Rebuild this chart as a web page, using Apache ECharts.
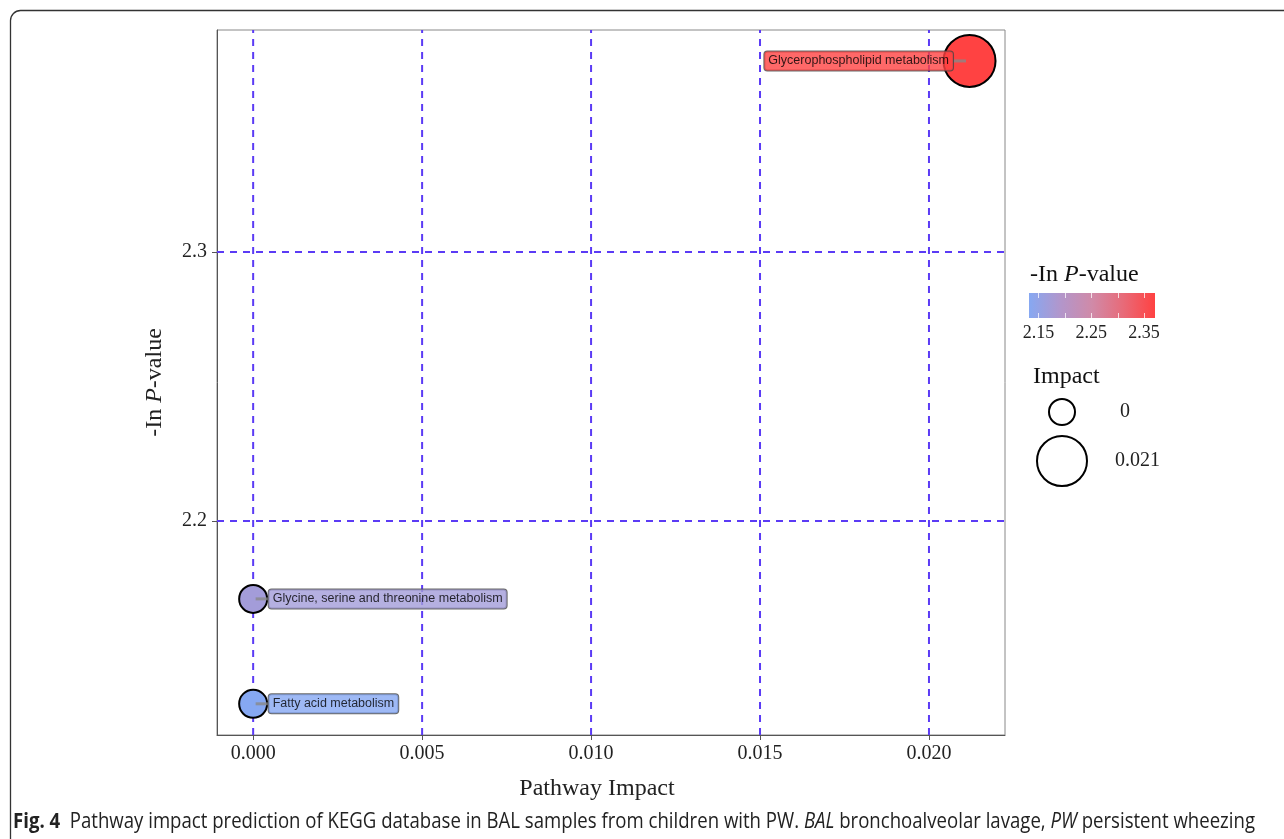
<!DOCTYPE html>
<html>
<head>
<meta charset="utf-8">
<script src="https://cdn.jsdelivr.net/npm/echarts@6/dist/echarts.min.js"></script>
<style>
html,body{margin:0;padding:0;background:#fff;}
#chart{width:1284px;height:839px;}
</style>
</head>
<body>
<div id="chart"></div>
<script>
// ---- data ----
const pathways = ['Glycerophospholipid metabolism', 'Glycine, serine and threonine metabolism', 'Fatty acid metabolism'];
const impact = [0.0212, 0, 0];
const negLnP = [2.371, 2.171, 2.132];
const xTicks = [0, 0.005, 0.010, 0.015, 0.020];
const yTicks = [2.2, 2.3];
const colorbarTicks = [2.15, 2.20, 2.25, 2.30, 2.35];
const colorbarLabels = [2.15, 2.25, 2.35];
const sizeLegendValues = [0, 0.021];

// ---- styling ----
const colorStops = ['#86A8F2', '#B296CB', '#D08AA8', '#E86A78', '#FF4242'];
const pMin = 2.132, pMax = 2.371;
const impMin = 0, impMax = 0.021;
const sizeRange = [28, 52];
const serif = 'Liberation Serif, Times New Roman, serif';
const capFont = '"Open Sans", "Noto Sans", sans-serif';
const gridCol = '#5B3BF5';

function hexToRgb(h){h=h.replace('#','');return [0,2,4].map(i=>parseInt(h.substr(i,2),16));}
function colorAt(v){
  let t=(v-pMin)/(pMax-pMin); t=Math.max(0,Math.min(1,t));
  const n=colorStops.length-1; const i=Math.min(n-1,Math.floor(t*n)); const f=t*n-i;
  const a=hexToRgb(colorStops[i]), b=hexToRgb(colorStops[i+1]);
  return 'rgb('+a.map((x,k)=>Math.round(x+(b[k]-x)*f)).join(',')+')';
}
function sizeAt(v){return sizeRange[0]+(v-impMin)/(impMax-impMin)*(sizeRange[1]-sizeRange[0]);}

const chart = echarts.init(document.getElementById('chart'), null, {renderer:'canvas'});

const bubbleData = pathways.map((p,i)=>({name:p, value:[impact[i], negLnP[i]]}));
const segData = pathways.map((p,i)=>{
  const left = i===0;
  return {
    name:p, value:[impact[i], negLnP[i]],
    symbolOffset:[left?-10:9, 0],
    label:{
      show:true, position:left?'left':'right', distance:0,
      formatter:p, backgroundColor:colorAt(negLnP[i])
    }
  };
});

const grid = {left:217, right:279, top:30, bottom:104};
const xMin=-0.00107, xMax=0.02225, yMin=2.1204, yMax=2.3825;

// dashed gridlines built from the tick arrays
const gridSeries = [];
xTicks.forEach(v=>gridSeries.push({type:'line', silent:true, z:1, symbol:'none', animation:false,
  data:[[v,yMin],[v,yMax]], lineStyle:{color:gridCol, type:[7,6], width:2}}));
yTicks.forEach(v=>gridSeries.push({type:'line', silent:true, z:1, symbol:'none', animation:false,
  data:[[xMin,v],[xMax,v]], lineStyle:{color:gridCol, type:[7,6], width:2}}));

// colorbar geometry
const cb = {x:1029, y:293, w:126, h:25};
const cbX = v => cb.x + (v-pMin)/(pMax-pMin)*cb.w;
const graphics = [];
graphics.push({type:'rect', shape:{x:10.5, y:10.5, width:1320, height:900, r:10}, style:{fill:null, stroke:'#333', lineWidth:1.3}, z:0, silent:true});
graphics.push({type:'rect', shape:{x:cb.x, y:cb.y, width:cb.w, height:cb.h}, style:{fill:new echarts.graphic.LinearGradient(0,0,1,0, colorStops.map((c,i)=>({offset:i/(colorStops.length-1), color:c})))}});
colorbarTicks.forEach(v=>{
  const x=Math.round(cbX(v))+0.5;
  graphics.push({type:'line', shape:{x1:x,y1:cb.y,x2:x,y2:cb.y+5}, style:{stroke:'rgba(255,255,255,0.75)', lineWidth:1}});
  graphics.push({type:'line', shape:{x1:x,y1:cb.y+cb.h-5,x2:x,y2:cb.y+cb.h}, style:{stroke:'rgba(255,255,255,0.75)', lineWidth:1}});
});
colorbarLabels.forEach(v=>{
  graphics.push({type:'text', x:cbX(v), y:333, style:{text:v.toFixed(2), font:'18px '+serif, fill:'#222', align:'center', verticalAlign:'middle'}});
});
graphics.push({type:'text', x:1030, y:275, style:{text:'-In {i|P}-value', font:'24px '+serif, fill:'#111', verticalAlign:'middle', rich:{i:{fontStyle:'italic', fontSize:24, fontFamily:serif, fill:'#111'}}}});
graphics.push({type:'text', x:1033, y:377, style:{text:'Impact', font:'24px '+serif, fill:'#111', verticalAlign:'middle'}});
const sizeLegendY=[412, 461];
const sizeLegendTx=[1120, 1115];
sizeLegendValues.forEach((v,i)=>{
  graphics.push({type:'circle', shape:{cx:1062, cy:sizeLegendY[i], r:sizeAt(v)/2-1}, style:{fill:'#fff', stroke:'#000', lineWidth:2}});
  graphics.push({type:'text', x:sizeLegendTx[i], y:sizeLegendY[i], style:{text:String(v), font:'20px '+serif, fill:'#222', verticalAlign:'middle'}});
});

// caption (condensed by horizontal scaling to the reference width)
const capSize = 22;
const capParts = [
  ['b','Fig. 4'], ['r','  Pathway impact prediction of KEGG database in BAL samples from children with PW. '],
  ['i','BAL'], ['r',' bronchoalveolar lavage, '], ['i','PW'], ['r',' persistent wheezing']
];
const mc = document.createElement('canvas').getContext('2d');
let capW = 0;
capParts.forEach(([s,t])=>{
  mc.font = (s==='b'?'bold ':'') + (s==='i'?'italic ':'') + capSize + 'px ' + capFont;
  capW += mc.measureText(t).width;
});
const capTarget = 1242;
graphics.push({type:'text', x:13, y:822, scaleX:capTarget/capW, style:{
  text:capParts.map(([s,t])=>s==='r'?t:'{'+s+'|'+t+'}').join(''),
  font:capSize+'px '+capFont, fill:'#222', verticalAlign:'middle',
  rich:{
    b:{fontWeight:'bold', fontSize:capSize, fontFamily:capFont, fill:'#222'},
    i:{fontStyle:'italic', fontSize:capSize, fontFamily:capFont, fill:'#222'}
  }
}});

chart.setOption({
  animation:false,
  backgroundColor:'#fff',
  grid:{...grid, show:true, borderColor:'#888', borderWidth:1, backgroundColor:'#fff'},
  xAxis:{
    type:'value', min:xMin, max:xMax,
    name:'Pathway Impact', nameLocation:'middle', nameGap:42,
    nameTextStyle:{fontFamily:serif, fontSize:24, color:'#222', padding:[0,28,0,0]},
    axisLine:{show:true, onZero:false, lineStyle:{color:'#555', width:1}},
    axisTick:{show:true, length:5, customValues:xTicks, lineStyle:{color:'#555'}},
    axisLabel:{customValues:xTicks, formatter:v=>v.toFixed(3), fontFamily:serif, fontSize:20, color:'#222', margin:9},
    splitLine:{show:false}
  },
  yAxis:{
    type:'value', min:yMin, max:yMax,
    name:'-In {i|P}-value', nameLocation:'middle', nameGap:50, nameRotate:90,
    nameTextStyle:{fontFamily:serif, fontSize:24, color:'#222', rich:{i:{fontStyle:'italic', fontFamily:serif, fontSize:24, color:'#222'}}},
    axisLine:{show:true, onZero:false, lineStyle:{color:'#555', width:1}},
    axisTick:{show:true, length:5, customValues:yTicks, lineStyle:{color:'#555'}},
    axisLabel:{customValues:yTicks, formatter:v=>v.toFixed(1), fontFamily:serif, fontSize:20, color:'#222', margin:10},
    splitLine:{show:false}
  },
  visualMap:[
    {type:'continuous', show:false, seriesIndex:0, dimension:1, min:pMin, max:pMax, inRange:{color:colorStops}},
    {type:'continuous', show:false, seriesIndex:0, dimension:0, min:impMin, max:impMax, inRange:{symbolSize:sizeRange}}
  ],
  series:[
    {
      type:'scatter', z:3, data:bubbleData,
      itemStyle:{borderColor:'#000', borderWidth:2, opacity:1}
    },
    {
      type:'scatter', z:4, data:segData, symbol:'rect', symbolSize:[13,3],
      itemStyle:{color:'#888'},
      label:{fontFamily:'Liberation Sans, Arial, sans-serif', fontSize:12.5, color:'#000',
        borderColor:'#444', borderWidth:1, borderRadius:3, padding:[3,4,3,4]}
    }
  ].concat(gridSeries),
  graphic:graphics
});
</script>
</body>
</html>
